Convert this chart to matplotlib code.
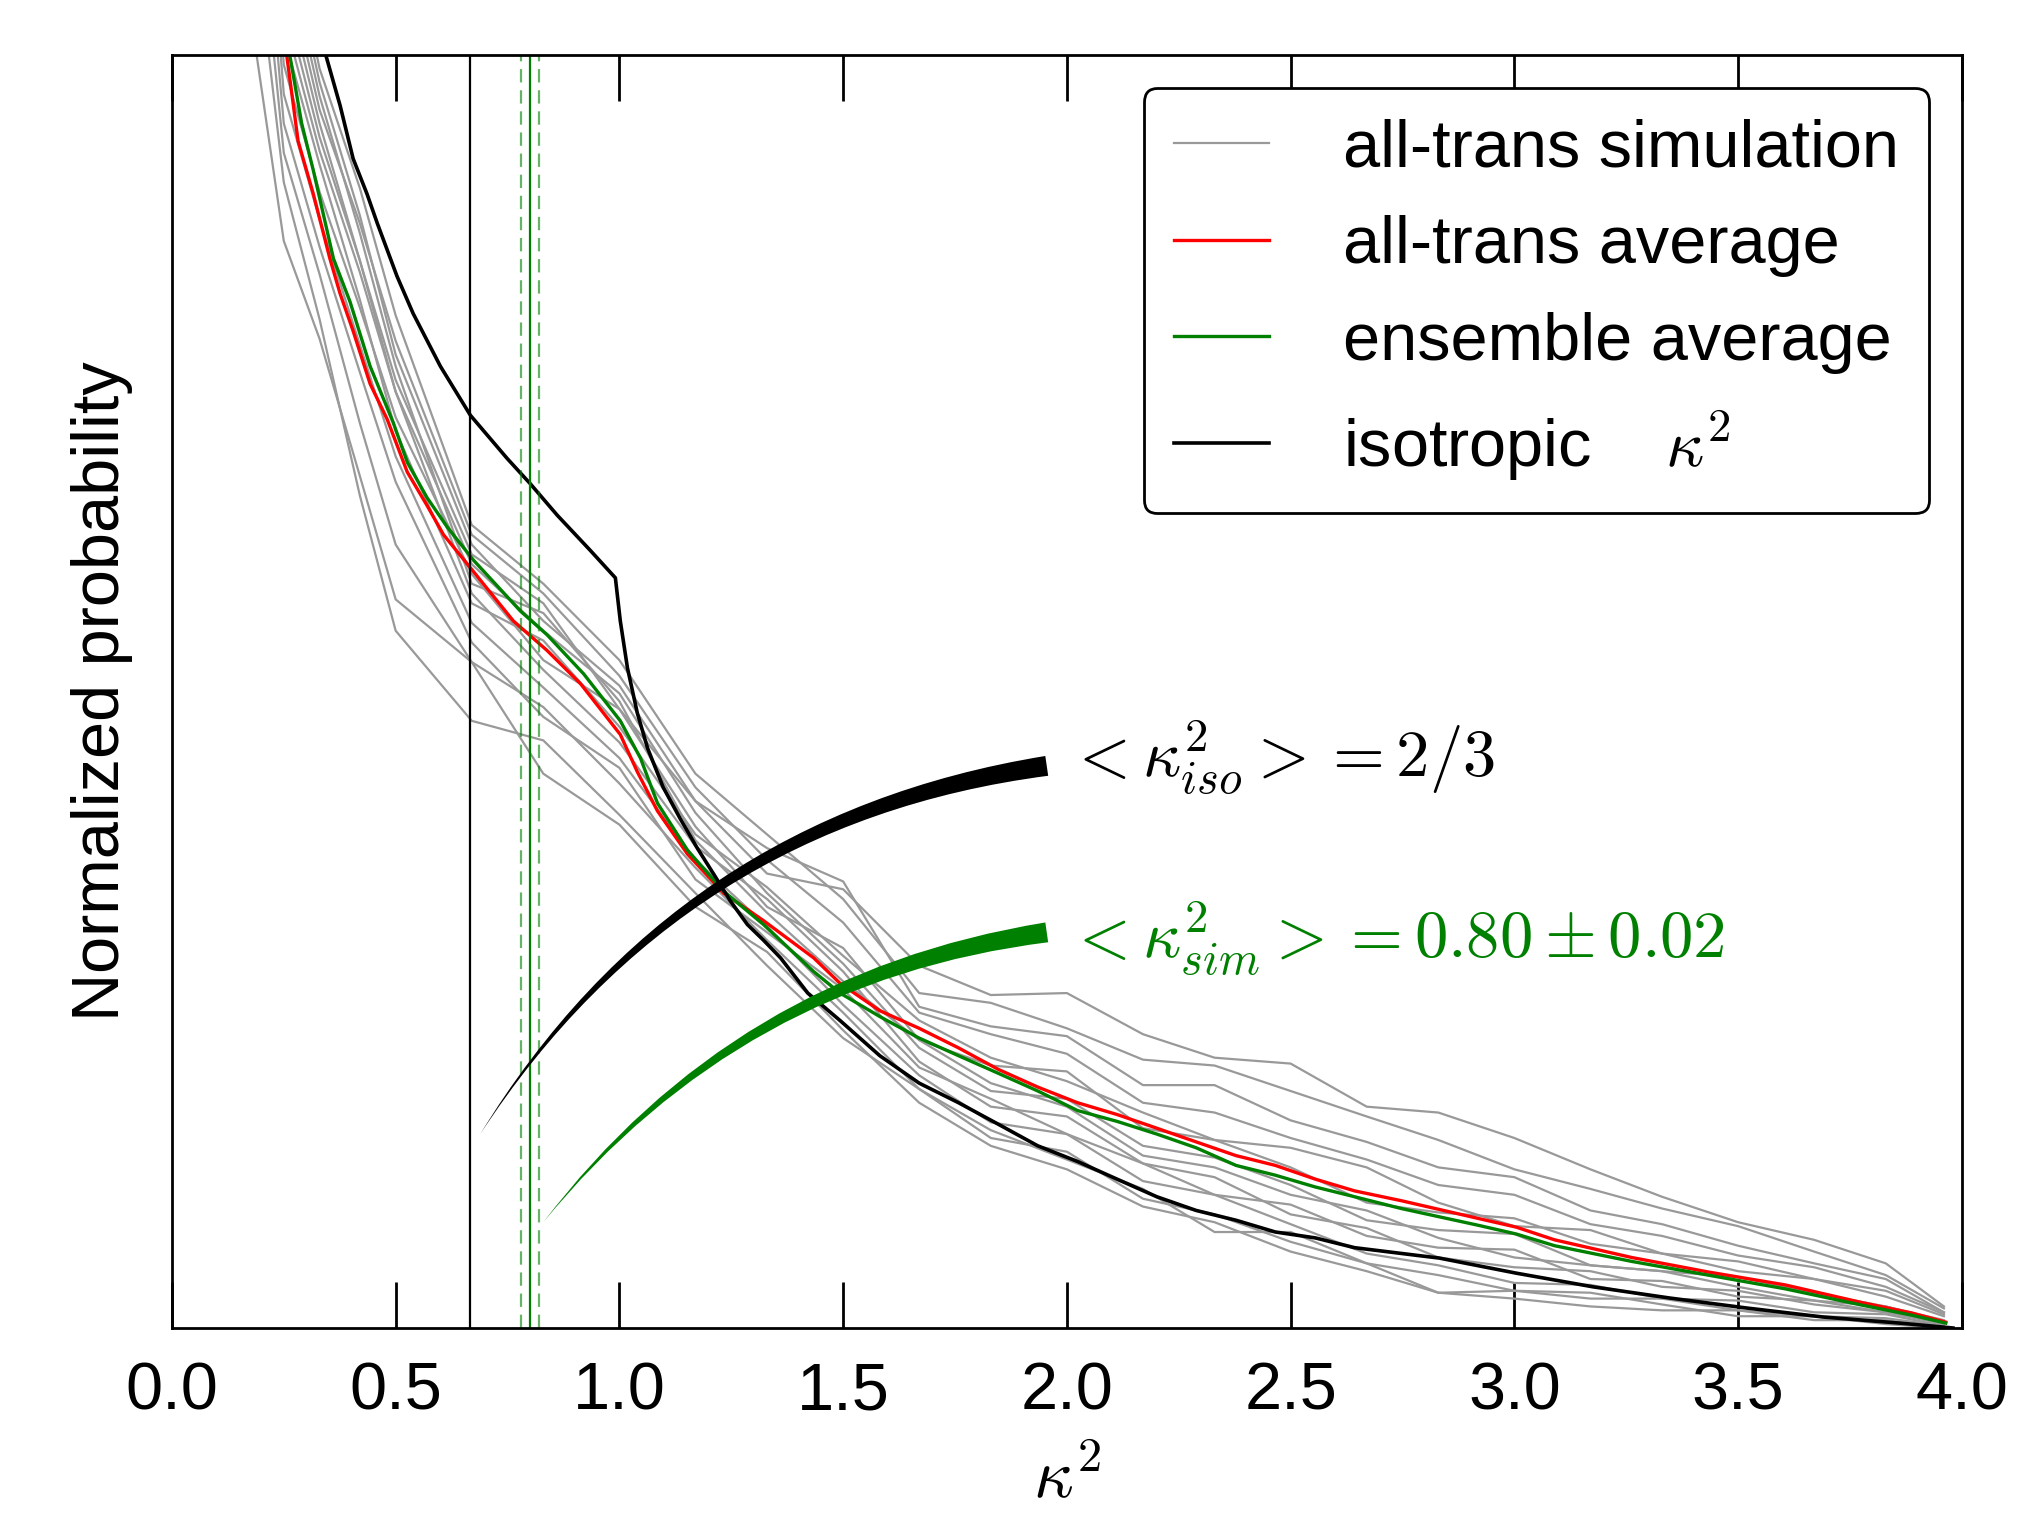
import matplotlib
matplotlib.use("Agg")
import matplotlib.pyplot as plt

# fonts: Arial-like text, Computer Modern maths
plt.rcParams['font.family'] = ['Liberation Sans', 'DejaVu Sans']
plt.rcParams['mathtext.fontset'] = 'cm'
plt.rcParams['font.size'] = 48

# isotropic kappa^2 distribution
iso_x = [0.30, 0.345, 0.376, 0.405, 0.436, 0.459, 0.503, 0.539, 0.600, 0.667,
         0.749, 0.801, 0.861, 0.935, 0.991, 1.002, 1.018, 1.040, 1.063, 1.098,
         1.136, 1.174, 1.210, 1.248, 1.286, 1.322, 1.360, 1.421, 1.493, 1.582,
         1.670, 1.758, 1.847, 1.935, 2.024, 2.112, 2.201, 2.289, 2.378, 2.466,
         2.555, 2.643, 2.785, 2.832, 3.004, 3.176, 3.347, 3.519, 3.690, 3.861, 3.98]
iso_y = [0.69, 0.649, 0.624, 0.597, 0.579, 0.564, 0.537, 0.518, 0.491, 0.466,
         0.444, 0.431, 0.415, 0.397, 0.383, 0.361, 0.337, 0.314, 0.296, 0.276,
         0.260, 0.245, 0.232, 0.218, 0.206, 0.198, 0.189, 0.171, 0.157, 0.139,
         0.125, 0.115, 0.104, 0.093, 0.085, 0.076, 0.067, 0.060, 0.055, 0.049,
         0.046, 0.041, 0.037, 0.0357, 0.028, 0.021, 0.0153, 0.0102, 0.0056, 0.0025, 0.0]

# all-trans average
avg_x = [0.22, 0.257, 0.282, 0.316, 0.353, 0.376, 0.405, 0.443, 0.481, 0.526,
         0.570, 0.607, 0.671, 0.763, 0.838, 0.913, 1.002, 1.040, 1.085, 1.152,
         1.233, 1.322, 1.434, 1.493, 1.582, 1.670, 1.758, 1.847, 1.935, 2.024,
         2.112, 2.201, 2.289, 2.378, 2.466, 2.555, 2.643, 2.747, 2.918, 3.004,
         3.090, 3.262, 3.433, 3.605, 3.776, 3.887, 3.964]
avg_y = [0.72, 0.649, 0.606, 0.579, 0.546, 0.528, 0.509, 0.482, 0.464, 0.437,
         0.420, 0.405, 0.387, 0.361, 0.346, 0.329, 0.303, 0.284, 0.264, 0.242,
         0.222, 0.208, 0.189, 0.176, 0.162, 0.153, 0.143, 0.132, 0.123, 0.115,
         0.109, 0.102, 0.095, 0.088, 0.083, 0.076, 0.070, 0.065, 0.056, 0.0515,
         0.045, 0.036, 0.0286, 0.022, 0.013, 0.0077, 0.003]

# ensemble average
ens_x = [0.22, 0.264, 0.290, 0.316, 0.361, 0.398, 0.443, 0.495, 0.526, 0.570,
         0.615, 0.674, 0.779, 0.838, 0.920, 1.002, 1.047, 1.085, 1.152, 1.233,
         1.322, 1.434, 1.493, 1.582, 1.670, 1.758, 1.847, 1.935, 2.024, 2.112,
         2.201, 2.289, 2.378, 2.466, 2.555, 2.643, 2.747, 2.918, 3.004, 3.090,
         3.262, 3.433, 3.605, 3.776, 3.887, 3.964]
ens_y = [0.71, 0.649, 0.615, 0.591, 0.546, 0.524, 0.491, 0.462, 0.442, 0.424,
         0.409, 0.392, 0.366, 0.354, 0.334, 0.310, 0.291, 0.268, 0.244, 0.223,
         0.206, 0.182, 0.171, 0.159, 0.148, 0.139, 0.130, 0.121, 0.111, 0.1055,
         0.099, 0.092, 0.083, 0.078, 0.072, 0.067, 0.061, 0.0525, 0.048, 0.042,
         0.034, 0.027, 0.020, 0.0117, 0.0066, 0.0025]

# individual all-trans simulations, all on one kappa^2 grid
sim_x = [0.17, 0.25, 0.33, 0.42, 0.5, 0.67, 0.83, 1.0, 1.17, 1.33, 1.5, 1.67, 1.83,
         2.0, 2.17, 2.33, 2.5, 2.67, 2.83, 3.0, 3.17, 3.33, 3.5, 3.67, 3.83, 3.96]
sim_01 = [1.06, .72, .636, .568, .497, .40, .361, .328, .269, .232, .224, .185, .170,
          .171, .150, .138, .135, .113, .110, .097, .081, .067, .054, .045, .033, .011]
sim_02 = [1.08, .73, .643, .582, .517, .41, .38, .341, .283, .252, .219, .171, .166,
          .153, .137, .134, .121, .108, .096, .081, .071, .061, .052, .039, .027, .010]
sim_03 = [.98, .68, .608, .545, .484, .395, .370, .316, .269, .245, .228, .164, .154,
          .149, .124, .124, .106, .095, .082, .077, .060, .053, .042, .033, .025, .008]
sim_04 = [.94, .66, .594, .525, .458, .370, .351, .307, .252, .225, .190, .157, .138,
          .126, .110, .096, .092, .082, .064, .052, .050, .038, .034, .025, .019, .007]
sim_05 = [.90, .645, .580, .521, .465, .385, .341, .316, .256, .215, .194, .147, .134,
          .131, .102, .096, .082, .064, .059, .056, .043, .038, .029, .025, .016, .006]
sim_06 = [1.0, .69, .615, .545, .478, .390, .356, .324, .263, .222, .186, .143, .121,
          .117, .093, .087, .073, .055, .050, .048, .032, .029, .026, .018, .011, .004]
sim_07 = [1.04, .71, .629, .559, .491, .380, .365, .320, .249, .212, .177, .147, .125,
          .113, .088, .082, .068, .060, .046, .036, .032, .029, .021, .014, .011, .003]
sim_08 = [.96, .67, .601, .539, .478, .375, .336, .299, .246, .219, .182, .136, .113,
          .108, .084, .068, .063, .047, .041, .040, .025, .024, .016, .014, .008, .003]
sim_09 = [.86, .63, .566, .502, .445, .360, .327, .291, .239, .205, .165, .129, .105,
          .099, .075, .068, .053, .038, .032, .023, .022, .015, .014, .008, .007, .001]
sim_10 = [.78, .60, .538, .462, .400, .340, .317, .278, .235, .198, .161, .122, .097,
          .090, .066, .058, .044, .033, .027, .019, .018, .012, .006, .006, .002, .000]
sim_11 = [.68, .555, .505, .435, .372, .340, .283, .257, .215, .192, .152, .115, .093,
          .081, .062, .054, .039, .029, .018, .015, .011, .009, .009, .004, .004, .000]
sim_12 = [.74, .585, .515, .425, .356, .310, .300, .262, .222, .185, .148, .122, .101,
          .086, .071, .049, .049, .033, .018, .019, .015, .015, .009, .006, .005, .001]
sim_13 = [1.02, .70, .622, .564, .504, .405, .375, .333, .276, .239, .207, .161, .150,
          .140, .115, .110, .097, .086, .073, .068, .053, .047, .037, .031, .021, .008]
sim_14 = [.82, .615, .552, .488, .432, .350, .312, .286, .229, .202, .173, .133, .117,
          .099, .084, .077, .058, .051, .036, .031, .029, .021, .019, .012, .008, .002]
sims = [sim_01, sim_02, sim_03, sim_04, sim_05, sim_06, sim_07,
        sim_08, sim_09, sim_10, sim_11, sim_12, sim_13, sim_14]

# mean kappa^2 values
k2_iso = 2 / 3
k2_sim = 0.80
k2_sim_err = 0.02

fig = plt.figure(figsize=(20.37, 15.17), dpi=100)
ax = fig.add_axes([0.0844, 0.1246, 0.8787, 0.8392])

for i, s in enumerate(sims):
    ax.plot(sim_x, s, color="0.6", lw=1.6,
            label="all-trans simulation" if i == 0 else None)
ax.plot(avg_x, avg_y, color="red", lw=2.4, label="all-trans average")
ax.plot(ens_x, ens_y, color="green", lw=2.4, label="ensemble average")
ax.plot(iso_x, iso_y, color="black", lw=2.6, label="isotropic    $\\kappa^2$")

# mean values as vertical lines
ax.axvline(k2_iso, color="black", lw=1.6)
ax.axvline(k2_sim, color="green", lw=1.6)
ax.axvline(k2_sim - k2_sim_err, color="green", lw=1.6, ls=(0, (6, 3.5)), alpha=0.6)
ax.axvline(k2_sim + k2_sim_err, color="green", lw=1.6, ls=(0, (6, 3.5)), alpha=0.6)

# curved wedges pointing at the mean lines
ax.annotate("", xy=(0.689, 0.099), xytext=(1.955, 0.287),
            arrowprops=dict(arrowstyle="wedge,tail_width=0.3", fc="black", ec="none",
                            connectionstyle="arc3,rad=0.23", shrinkA=0, shrinkB=0,
                            mutation_scale=48))
ax.annotate("", xy=(0.830, 0.054), xytext=(1.955, 0.202),
            arrowprops=dict(arrowstyle="wedge,tail_width=0.3", fc="green", ec="none",
                            connectionstyle="arc3,rad=0.2", shrinkA=0, shrinkB=0,
                            mutation_scale=48))
ax.text(2.0, 0.281, r"${<}\kappa^2_{iso}{>}{=}2/3$", color="black",
        fontsize=48, va="baseline")
ax.text(2.0, 0.1886, r"${<}\kappa^2_{sim}{>}{=}0.80\pm0.02$", color="green",
        fontsize=48, va="baseline")

ax.set_xlim(0, 4)
ax.set_ylim(0, 0.65)
ax.set_xticks([0.0, 0.5, 1.0, 1.5, 2.0, 2.5, 3.0, 3.5, 4.0])
ax.set_xticklabels(["0.0", "0.5", "1.0", "1.5", "2.0", "2.5", "3.0", "3.5", "4.0"])
ax.tick_params(axis="x", direction="in", length=33, width=2, top=True, pad=24,
               labelsize=48)
ax.tick_params(axis="y", left=False, labelleft=False)
for sp in ax.spines.values():
    sp.set_linewidth(2)

ax.set_xlabel(r"$\kappa^2$", fontsize=50, labelpad=18)
ax.set_ylabel("Normalized probability", fontsize=48, labelpad=28)

leg = ax.legend(loc="upper right", fancybox=True, framealpha=1, edgecolor="black",
                handlelength=1.43, handletextpad=1.1, labelspacing=0.52, borderpad=0.45,
                fontsize=48)
leg.get_frame().set_linewidth(2)

fig.savefig("out.png", dpi=100)
